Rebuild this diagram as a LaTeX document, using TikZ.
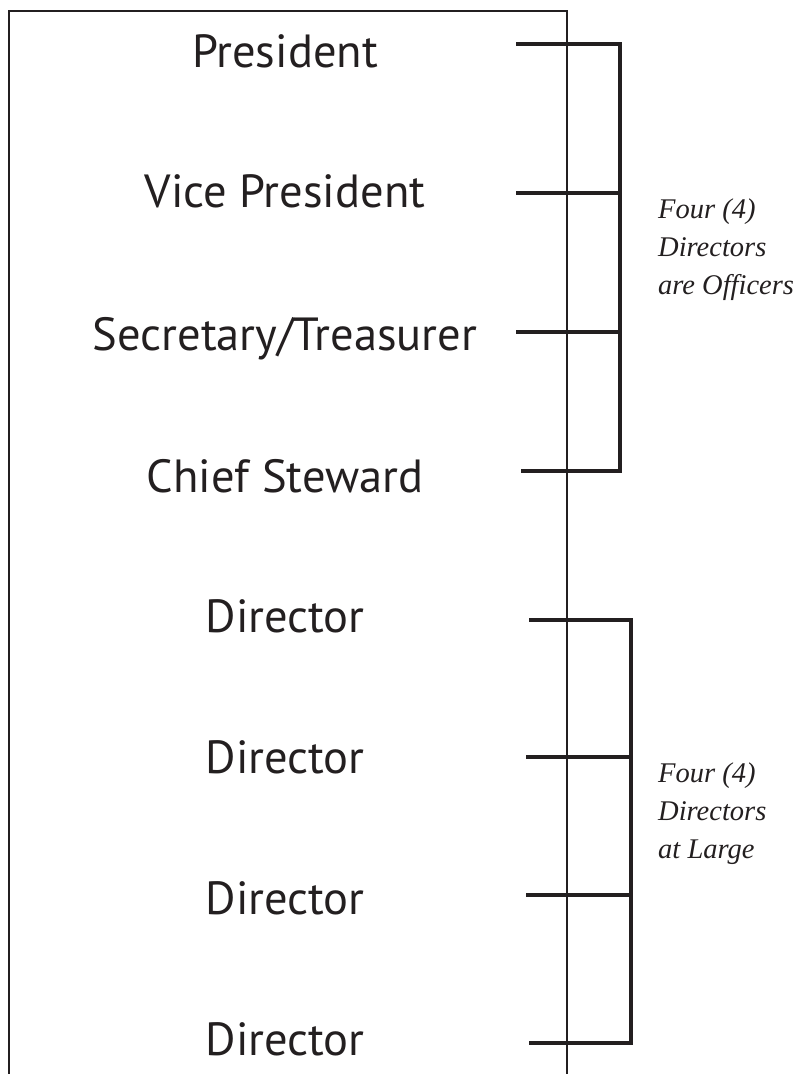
\documentclass[tikz,border=0pt]{standalone}
\usepackage{fontspec}
\setmainfont{Liberation Serif}
\newfontfamily\labelfont{PT Sans}
\definecolor{ink}{RGB}{35,31,32}
\begin{document}
\begin{tikzpicture}[x=1pt,y=-1pt,
  frame/.style={line width=2pt, draw=ink},
  brack/.style={line width=4pt, draw=ink, line join=miter, line cap=butt},
  role/.style={font=\labelfont\fontsize{46.5}{52}\selectfont, text=ink, anchor=base, inner sep=0pt},
  group/.style={font=\itshape\fontsize{28.5}{38}\selectfont, text=ink, align=left, anchor=north west, inner sep=0pt}]
\useasboundingbox (0,0) rectangle (802,1074);
\fill[white] (0,0) rectangle (802,1074);
% frame
\draw[frame] (9,1076) -- (9,11) -- (567,11) -- (567,1076);
% role labels
\node[role] (pres) at (285,67) {President};
\node[role] (vp) at (285,207) {Vice President};
\node[role] (sec) at (285,350) {Secretary/Treasurer};
\node[role] (cs) at (285,492) {Chief Steward};
\node[role] (d1) at (285,632) {Director};
\node[role] (d2) at (285,773) {Director};
\node[role] (d3) at (285,914) {Director};
\node[role] (d4) at (285,1055) {Director};
% officer bracket
\coordinate (oa) at (516,44);
\coordinate (ob) at (516,193);
\coordinate (oc) at (516,332);
\coordinate (od) at (521,471);
\coordinate (ospine) at (620,44);
\draw[brack] (oa) -- (ospine) -- (ospine |- od) -- (od);
\draw[brack] (ob) -- (ob -| ospine);
\draw[brack] (oc) -- (oc -| ospine);
% director bracket
\coordinate (la) at (529,620);
\coordinate (lb) at (526,757);
\coordinate (lc) at (526,895);
\coordinate (ld) at (529,1043);
\coordinate (lspine) at (631,620);
\draw[brack] (la) -- (lspine) -- (lspine |- ld) -- (ld);
\draw[brack] (lb) -- (lb -| lspine);
\draw[brack] (lc) -- (lc -| lspine);
% group labels
\node[group] (g1) at (658,199) {Four (4)\\Directors\\are Officers};
\node[group] (g2) at (658,763) {Four (4)\\Directors\\at Large};
\end{tikzpicture}
\end{document}
